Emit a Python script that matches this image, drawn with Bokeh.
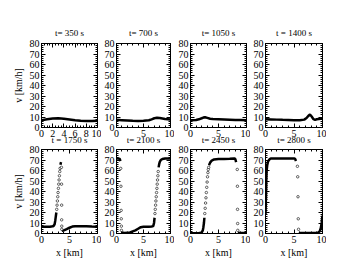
from bokeh.plotting import figure
from bokeh.layouts import column, row
from bokeh.models import (LinearAxis, Range1d, SingleIntervalTicker, Title, Spacer,
                          CustomLabelingPolicy)
from bokeh.embed import file_html
from bokeh.resources import INLINE

FONT = "Liberation Serif"

# ---------------- data ----------------
titles = ["t= 350 s", "t= 700 s", "t= 1050 s", "t = 1400 s",
          "t = 1750 s", "t= 2100 s", "t= 2450 s", "t= 2800 s"]

# top row: smooth profiles
x350 = [0, 1, 2, 3, 4, 5, 6, 7, 8, 9, 10]
v350 = [7.0, 7.8, 8.5, 8.7, 8.3, 7.7, 7.0, 6.5, 6.2, 6.2, 6.5]

x700 = [0, 1, 2, 3, 4, 5, 6, 6.5, 7, 7.5, 8, 8.5, 9, 10]
v700 = [7.3, 7.0, 6.7, 6.4, 6.3, 6.4, 6.9, 7.8, 8.8, 9.2, 9.0, 8.5, 8.0, 7.6]

x1050 = [0, 1, 1.5, 2, 2.3, 2.6, 3.0, 3.5, 4, 5, 6, 7, 8, 9, 10]
v1050 = [7.0, 7.2, 7.8, 8.8, 9.5, 9.8, 9.2, 8.4, 8.0, 7.8, 7.6, 7.4, 7.2, 7.1, 7.0]

x1400 = [0, 1, 2, 3, 4, 5, 6, 6.8, 7.2, 7.5, 7.8, 8.1, 8.4, 8.7, 9, 10]
v1400 = [7.9, 7.7, 7.5, 7.3, 7.2, 7.0, 7.0, 7.5, 9.0, 11.0, 12.4, 10.5, 8.0, 7.3, 7.8, 8.6]

# bottom row: dense parts (lines) and sparse points (markers)
x1750a = [0, 0.5, 1, 1.5, 2.0, 2.2, 2.35, 2.45, 2.55, 2.65]
v1750a = [6.5, 6.5, 6.5, 6.5, 6.8, 7.5, 9, 12, 16, 20]
x1750t = [3.38, 3.44, 3.5]
v1750t = [65.5, 67.0, 68.0]
x1750b = [3.62, 4, 4.5, 5, 5.5, 6, 7, 8, 9, 10]
v1750b = [2.5, 3.0, 4.2, 5.5, 6.6, 7.0, 7.0, 6.8, 6.6, 6.5]
x1750s = [2.72, 2.78, 2.84, 2.9, 2.96, 3.02, 3.08, 3.14, 3.2, 3.26, 3.32,
          3.56, 3.58, 3.6, 3.6, 3.62, 3.62]
v1750s = [23, 27, 31, 35, 39, 43, 47, 51, 55, 59, 62,
          63, 47, 27, 13, 7, 4]

x2100a = [0, 0.3, 0.6, 0.72]
v2100a = [71.5, 71.5, 71.0, 69.0]
x2100b = [0.95, 1.5, 2, 2.5, 3, 3.5, 4, 4.5, 5, 5.5, 6, 6.5, 6.8, 6.95, 7.05]
v2100b = [1.0, 0.5, 0.6, 1.0, 2.0, 3.0, 4.5, 6.0, 6.5, 6.5, 6.5, 6.6, 7.0, 10, 15]
x2100c = [7.8, 7.9, 8.0, 8.2, 8.5, 9, 9.5, 10]
v2100c = [63, 66, 68, 70, 71, 71.5, 71.5, 71.5]
x2100s = [0.78, 0.82, 0.86, 0.88, 0.9, 0.92,
          7.12, 7.18, 7.24, 7.3, 7.36, 7.42, 7.48, 7.54, 7.6, 7.66, 7.72]
v2100s = [62, 45, 22, 14, 7, 3,
          19, 23, 27, 31, 35, 39, 43, 47, 51, 55, 59]

x2450a = [0, 0.5, 1, 1.5, 1.8, 2.0, 2.2, 2.3, 2.4, 2.48]
v2450a = [0.3, 0.3, 0.3, 0.4, 0.5, 1, 3, 6, 10, 15]
x2450b = [3.3, 3.5, 3.8, 4.2, 5, 6, 7, 7.8, 8.0, 8.15]
v2450b = [65, 67.5, 69.5, 70.5, 71, 71, 71.2, 71.5, 71, 68]
x2450c = [8.45, 9, 9.5, 10]
v2450c = [0.8, 0.5, 0.4, 0.4]
x2450s = [2.55, 2.62, 2.69, 2.76, 2.83, 2.9, 2.97, 3.04, 3.11, 3.18, 3.25,
          8.35, 8.38, 8.4, 8.42, 8.44]
v2450s = [19, 24, 29, 34, 39, 44, 49, 54, 58, 61, 63,
          61, 45, 23, 9.5, 3]

x2800a = [0, 0.05, 0.1, 0.15, 0.2, 0.3, 0.45, 0.6, 0.8, 1.0, 1.5, 2, 3, 4, 5, 5.2, 5.35]
v2800a = [18, 28, 40, 52, 60, 65, 68.5, 70, 71, 71.5, 71.5, 71.5, 71.5, 71.5, 71.5, 71, 69]
x2800b = [5.85, 6, 7, 8, 9, 9.3, 9.5, 9.7, 9.85, 10]
v2800b = [1, 0.5, 0.4, 0.4, 0.5, 1, 2, 5, 10, 17]
x2800s = [5.6, 5.65, 5.7, 5.75, 5.8]
v2800s = [64, 54, 35, 14, 4]

y_ticks_step = 10
x_ticks_step_first = 2
x_ticks_step = 5

NO_LABELS = CustomLabelingPolicy(code="return new Set()")


def ax(loc, step, nminor, labels, p, label=None, lstand=3):
    a = LinearAxis(ticker=SingleIntervalTicker(interval=step, num_minor_ticks=nminor))
    a.major_tick_in = 4
    a.major_tick_out = 0
    a.minor_tick_in = 2
    a.minor_tick_out = 0
    a.axis_line_color = "black"
    a.major_tick_line_color = "black"
    a.minor_tick_line_color = "black"
    if labels:
        a.major_label_text_font = FONT
        a.major_label_text_font_size = "10px"
        a.major_label_text_color = "black"
        a.major_label_standoff = 2
    else:
        a.major_label_policy = NO_LABELS
        a.major_label_text_font_size = "1px"
        a.major_label_standoff = 0
    if label:
        a.axis_label = label
        a.axis_label_text_font = FONT
        a.axis_label_text_font_size = "10px"
        a.axis_label_text_font_style = "normal"
        a.axis_label_text_color = "black"
        a.axis_label_standoff = lstand
    p.add_layout(a, loc)


def panel(title, fw, left, xstep, xminor, ylab, xlab, tstand):
    p = figure(frame_width=fw, frame_height=84,
               x_range=Range1d(0, 10), y_range=Range1d(0, 80),
               x_axis_location=None, y_axis_location=None, title=None,
               output_backend="svg", toolbar_location=None,
               min_border_left=left, min_border_right=0,
               min_border_top=0, min_border_bottom=0)
    p.xgrid.grid_line_color = None
    p.ygrid.grid_line_color = None
    p.outline_line_color = "black"
    p.background_fill_color = "white"
    p.border_fill_color = None
    ax("left", y_ticks_step, 5, True, p, "v [km/h]" if ylab else None, 3)
    ax("right", y_ticks_step, 5, False, p)
    ax("below", xstep, xminor, True, p, "x [km]" if xlab else None, 1)
    ax("above", xstep, xminor, False, p)
    t = Title(text=title, align="center", text_font=FONT, text_font_size="9px",
              text_font_style="normal", text_color="black", standoff=tstand)
    p.add_layout(t, "above")
    return p


LW = 2.5
cols = [(56, 33), (54, 15), (56, 16), (57, 15)]

top_data = [(x350, v350), (x700, v700), (x1050, v1050), (x1400, v1400)]
top = []
for i, (xs, vs) in enumerate(top_data):
    fw, left = cols[i]
    step = x_ticks_step_first if i == 0 else x_ticks_step
    nm = 4 if i == 0 else 5
    p = panel(titles[i], fw, left, step, nm, i == 0, False, 3)
    p.line(xs, vs, line_width=LW, line_color="black")
    top.append(p)

bottom_lines = [
    [(x1750a, v1750a), (x1750t, v1750t), (x1750b, v1750b)],
    [(x2100a, v2100a), (x2100b, v2100b), (x2100c, v2100c)],
    [(x2450a, v2450a), (x2450b, v2450b), (x2450c, v2450c)],
    [(x2800a, v2800a), (x2800b, v2800b)],
]
bottom_pts = [(x1750s, v1750s), (x2100s, v2100s), (x2450s, v2450s), (x2800s, v2800s)]

bot = []
for i in range(4):
    fw, left = cols[i]
    p = panel(titles[4 + i], fw, left, x_ticks_step, 5, i == 0, True, 2)
    for xs, vs in bottom_lines[i]:
        p.line(xs, vs, line_width=LW, line_color="black")
    xs, vs = bottom_pts[i]
    p.scatter(xs, vs, marker="circle", size=2.5, fill_color="white",
              line_color="black", line_width=0.6)
    bot.append(p)

layout = column(Spacer(height=24),
                row(Spacer(width=8), *top),
                row(Spacer(width=8), *bot, margin=(-8, 0, 0, 0)))

open("out.html", "w").write(file_html(layout, INLINE))
